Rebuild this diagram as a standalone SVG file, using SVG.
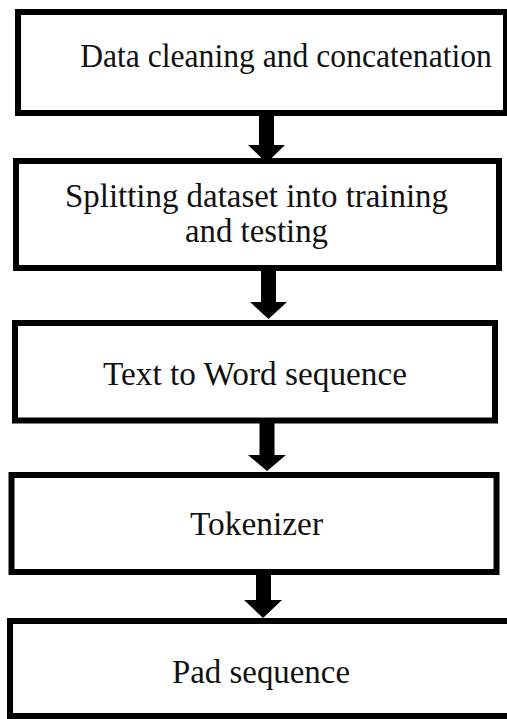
<svg xmlns="http://www.w3.org/2000/svg" width="507" height="719" viewBox="0 0 507 719">
<style>
.box{fill:#fff;stroke:#000;stroke-width:6}
.lbl{font-family:"Liberation Serif","Times New Roman",serif;font-size:34px;fill:#111;text-anchor:middle}
.arr{fill:#000}
</style>
<rect width="507" height="719" fill="#fff"/>
<g id="node1"><rect class="box" x="18" y="12" width="488" height="101"/><text class="lbl" x="0" y="0" transform="translate(286 67) scale(0.93 1)">Data cleaning and concatenation</text></g>
<g id="node2"><rect class="box" x="16" y="161" width="483" height="107"/><text class="lbl" x="256.5" y="207" textLength="383" lengthAdjust="spacingAndGlyphs">Splitting dataset into training</text><text class="lbl" x="256.5" y="242" textLength="143" lengthAdjust="spacingAndGlyphs">and testing</text></g>
<g id="node3"><rect class="box" x="15" y="323" width="480" height="97.5"/><text class="lbl" x="255" y="385" textLength="304" lengthAdjust="spacingAndGlyphs">Text to Word sequence</text></g>
<g id="node4"><rect class="box" x="11.5" y="475" width="485" height="97"/><text class="lbl" x="256.5" y="535" textLength="133" lengthAdjust="spacingAndGlyphs">Tokenizer</text></g>
<g id="node5"><rect class="box" x="10" y="621" width="503" height="95"/><text class="lbl" x="261" y="683" textLength="178" lengthAdjust="spacingAndGlyphs">Pad sequence</text></g>
<g id="connectors">
<polygon class="arr" points="259,113 274,113 274,145 285,145 266.5,163 248,145 259,145"/>
<polygon class="arr" points="261,268 276,268 276,302 287,302 268.5,319 250,302 261,302"/>
<polygon class="arr" points="259.5,420 274.5,420 274.5,455 286,455 267,471 248,455 259.5,455"/>
<polygon class="arr" points="256,572 271,572 271,600 282,600 263,618 244,600 256,600"/>
</g>
</svg>
